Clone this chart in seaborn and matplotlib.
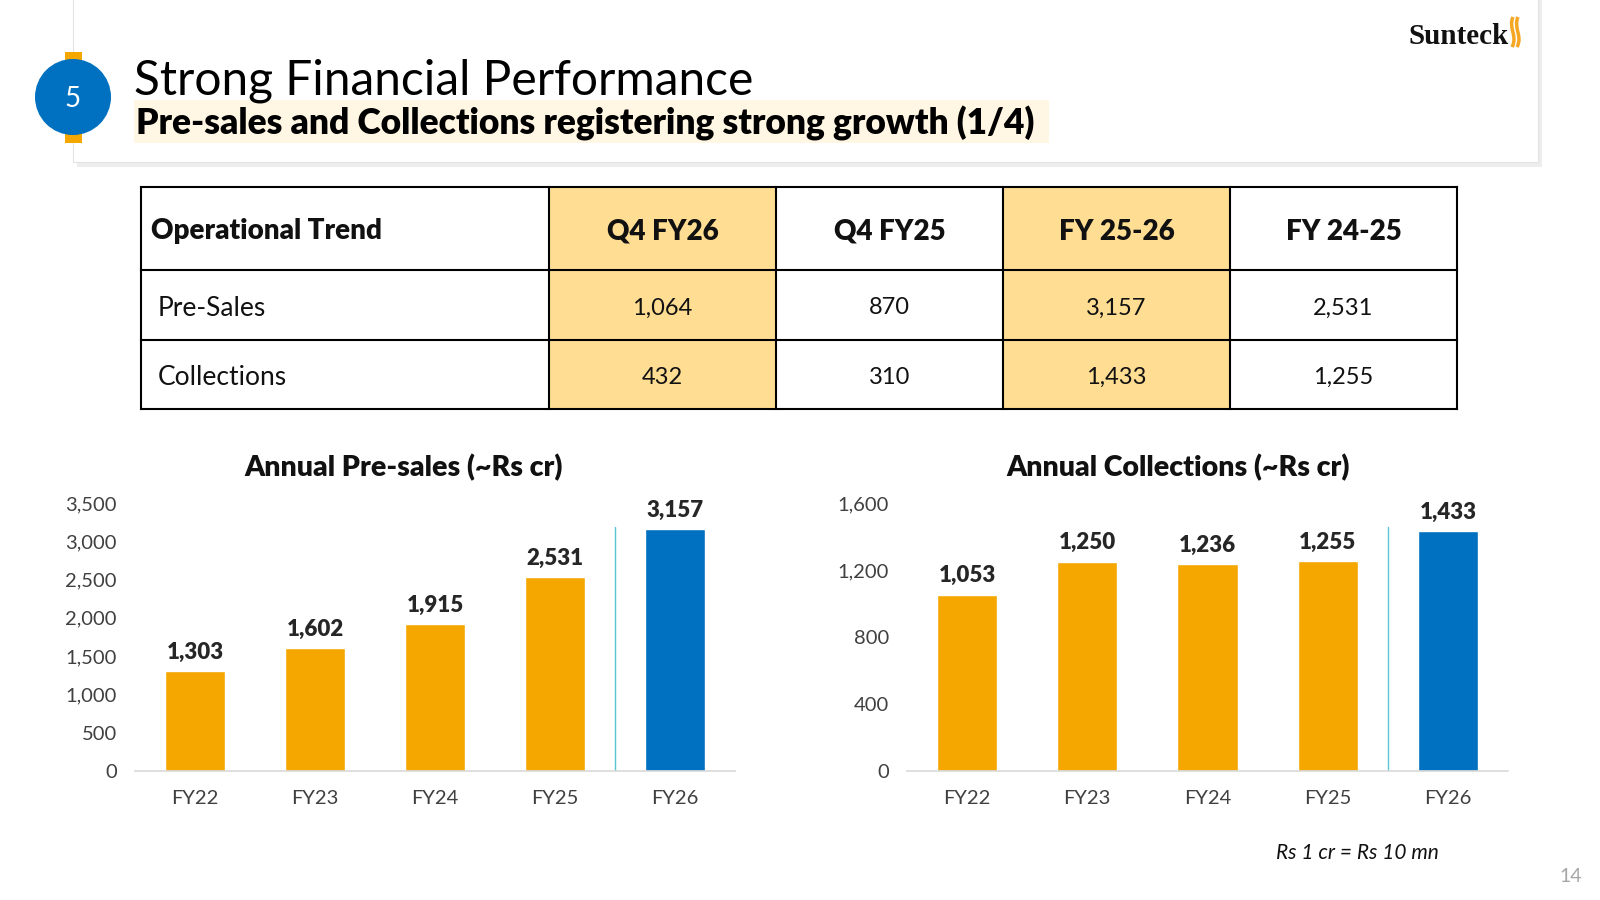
import numpy as np
import pandas as pd
import matplotlib.pyplot as plt
import matplotlib.patches as mpatches
from matplotlib.path import Path
from matplotlib.ticker import FuncFormatter
import seaborn as sns

years = ['FY22', 'FY23', 'FY24', 'FY25', 'FY26']
presales = [1303, 1602, 1915, 2531, 3157]
collections = [1053, 1250, 1236, 1255, 1433]

table_cols = ['Operational Trend', 'Q4 FY26', 'Q4 FY25', 'FY 25-26', 'FY 24-25']
table_rows = ['Pre-Sales', 'Collections']
table_presales = ['1,064', '870', '3,157', '2,531']
table_collections = ['432', '310', '1,433', '1,255']

ORANGE = '#F5A700'
BLUE = '#0070C0'
HILITE = '#FFDD93'
TXT = '#111111'

sns.set_theme(style='white')
plt.rcParams['font.family'] = ['Lato', 'DejaVu Sans']

W, H = 1600, 900
fig = plt.figure(figsize=(16, 9), dpi=100)


def px_axes(x0, y0, x1, y1):
    return fig.add_axes([x0 / W, 1 - y1 / H, (x1 - x0) / W, (y1 - y0) / H])


# background canvas in pixel coords
bg = fig.add_axes([0, 0, 1, 1])
bg.set_xlim(0, W)
bg.set_ylim(H, 0)
bg.axis('off')

# header card
bg.add_patch(mpatches.Rectangle((77, -4), 1465, 171, fc='#EDEDED', ec='none'))
bg.add_patch(mpatches.Rectangle((73, -4), 1465, 166, fc='white', ec='#E3E3E3', lw=0.8))
bg.add_patch(mpatches.Rectangle((65, 52), 17, 91, fc=ORANGE, ec='none'))
bg.add_patch(mpatches.Circle((73, 97), 38, fc=BLUE, ec='none'))
bg.text(73, 99, '5', color='white', fontsize=20, ha='center', va='center')

bg.text(134, 81, 'Strong Financial Performance', fontsize=34.5, fontweight='normal',
        color='black', ha='left', va='center')
bg.add_patch(mpatches.Rectangle((134, 100), 915, 43, fc='#FFF6E3', ec='none'))
bg.text(136, 123, 'Pre-sales and Collections registering strong growth (1/4)', fontsize=25.5,
        fontweight='heavy', color='black', ha='left', va='center')

# logo
bg.text(1409, 37, 'Sunteck', family=['Liberation Serif', 'DejaVu Serif'], fontweight='bold',
        fontsize=21, color=TXT, ha='left', va='center')
for dx in (0, 5):
    verts = [(1512 + dx, 47), (1518 + dx, 36), (1508 + dx, 28), (1513 + dx, 17)]
    codes = [Path.MOVETO, Path.CURVE4, Path.CURVE4, Path.CURVE4]
    bg.add_patch(mpatches.PathPatch(Path(verts, codes), fc='none', ec='#F5A623', lw=2.5))

# table
col_x = [141, 549, 776, 1003, 1230, 1457]
row_y = [187, 270, 340, 409]
for ci in (1, 3):
    bg.add_patch(mpatches.Rectangle((col_x[ci], row_y[0]), col_x[ci + 1] - col_x[ci],
                                    row_y[-1] - row_y[0], fc=HILITE, ec='none'))
for y in row_y:
    bg.plot([col_x[0], col_x[-1]], [y, y], color='black', lw=1.5, solid_capstyle='projecting')
for x in col_x:
    bg.plot([x, x], [row_y[0], row_y[-1]], color='black', lw=1.5, solid_capstyle='projecting')

hdr_y = (row_y[0] + row_y[1]) / 2 + 3
bg.text(151, hdr_y, table_cols[0], fontsize=20, fontweight='heavy', color=TXT, ha='left', va='center')
for i, name in enumerate(table_cols[1:]):
    cx = (col_x[i + 1] + col_x[i + 2]) / 2
    bg.text(cx, hdr_y, name, fontsize=20, fontweight='heavy', color=TXT, ha='center', va='center')

for r, (label, vals) in enumerate(zip(table_rows, [table_presales, table_collections])):
    cy = (row_y[r + 1] + row_y[r + 2]) / 2 + 3
    bg.text(158, cy, label, fontsize=19, color=TXT, ha='left', va='center')
    for i, v in enumerate(vals):
        cx = (col_x[i + 1] + col_x[i + 2]) / 2
        bg.text(cx, cy, v, fontsize=17, color=TXT, ha='center', va='center')

# chart titles and notes
bg.text(404, 468, 'Annual Pre-sales (~Rs cr)', fontsize=20.5, fontweight='heavy', color=TXT,
        ha='center', va='center')
bg.text(1178, 468, 'Annual Collections (~Rs cr)', fontsize=20.5, fontweight='heavy', color=TXT,
        ha='center', va='center')
bg.text(1357, 853, 'Rs 1 cr = Rs 10 mn', fontsize=15, fontstyle='italic', color=TXT,
        ha='center', va='center')
bg.text(1571, 876, '14', fontsize=14, color='#A6A6A6', ha='center', va='center')


def draw(ax, vals, top, step):
    df = pd.DataFrame({'year': years, 'value': vals})
    pal = [ORANGE] * 4 + [BLUE]
    sns.barplot(data=df, x='year', y='value', hue='year', palette=pal, width=0.5,
                saturation=1, legend=False, ax=ax)
    for c in ax.containers:
        ax.bar_label(c, labels=[f'{v:,.0f}' for v in c.datavalues], padding=6,
                     fontsize=16, fontweight='heavy', color='#262626')
    ax.set_ylim(0, top)
    ax.set_yticks(np.arange(0, top + 1, step))
    ax.yaxis.set_major_formatter(FuncFormatter(lambda v, p: f'{v:,.0f}'))
    ax.set_xlim(-0.5, 4.5)
    ax.axvline(3.5, ymin=0, ymax=0.91, color='#5BC4D1', lw=1)
    sns.despine(ax=ax, left=True)
    ax.spines['bottom'].set_color('#D9D9D9')
    ax.spines['bottom'].set_linewidth(1.2)
    ax.tick_params(axis='both', length=0, labelsize=14.5, labelcolor='#404040')
    ax.tick_params(axis='y', pad=13)
    ax.tick_params(axis='x', pad=14)
    ax.set_xlabel('')
    ax.set_ylabel('')
    ax.patch.set_alpha(0)


ax1 = px_axes(135, 503, 735, 771)
draw(ax1, presales, 3500, 500)
ax2 = px_axes(907, 503, 1508, 771)
draw(ax2, collections, 1600, 400)

fig.savefig('out.png', dpi=100)
